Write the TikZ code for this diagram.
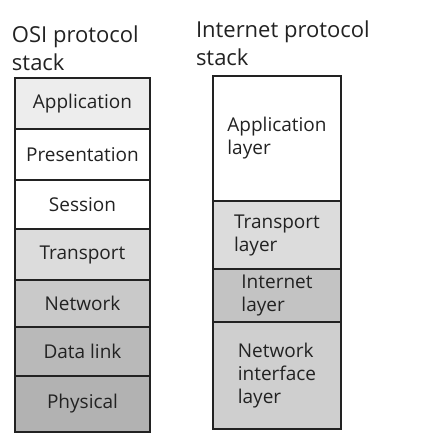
\documentclass[tikz,border=0pt]{standalone}
\usepackage{fontspec}
\setmainfont{Open Sans}
\definecolor{ink}{HTML}{222222}
\definecolor{g1}{HTML}{EDEDED}
\definecolor{g2}{HTML}{DCDCDC}
\definecolor{g3}{HTML}{C9C9C9}
\definecolor{g4}{HTML}{B9B9B9}
\definecolor{g5}{HTML}{B2B2B2}
\definecolor{g6}{HTML}{C3C3C3}
\definecolor{g7}{HTML}{CFCFCF}
% a layer box spanning rows #2 to #3 (distance from the top edge)
\newcommand\osilayer[5]{%
  \node[osi, fill=#4, minimum height={#3-#2}] (#1) at (82.5,{-(#2+#3)/2}) {#5};}
\newcommand\inetlayer[5]{%
  \node[inet, fill=#4, minimum height={#3-#2}] (#1) at (277,{-(#2+#3)/2}) {#5};}
\begin{document}
\begin{tikzpicture}[x=1pt,y=1pt,
  lay/.style={draw=ink, line width=1.8pt, text=ink, inner sep=0pt, outer sep=0pt,
    font=\fontsize{19}{23}\selectfont, align=center},
  osi/.style={lay, minimum width=135pt},
  inet/.style={lay, minimum width=128pt, align=left},
  title/.style={text=ink, anchor=north west, inner sep=0pt, outer sep=0pt, align=left,
    font=\fontsize{22}{28}\selectfont}]
\useasboundingbox (0,0) rectangle (430,-444);
\fill[white] (0,0) rectangle (430,-444);

% titles
\node[title] (osit) at (12,-26) {OSI protocol\\stack};
\node[title] (inett) at (196,-21) {Internet protocol\\stack};

% OSI stack
\osilayer{app}{78}{129}{g1}{Application}
\osilayer{pres}{129}{180}{white}{Presentation}
\osilayer{sess}{180}{229}{white}{Session}
\osilayer{trans}{229}{280}{g2}{Transport}
\osilayer{net}{280}{327}{g3}{Network}
\osilayer{dl}{327}{376}{g4}{Data link}
\osilayer{phys}{376}{432}{g5}{Physical}

% Internet stack
\inetlayer{iapp}{76}{201}{white}{Application\\layer}
\inetlayer{itrans}{201}{269}{g2}{Transport\\layer}
\inetlayer{iint}{269}{322}{g6}{Internet\\layer}
\inetlayer{inif}{322}{429}{g7}{Network\\interface\\layer}
\end{tikzpicture}
\end{document}
